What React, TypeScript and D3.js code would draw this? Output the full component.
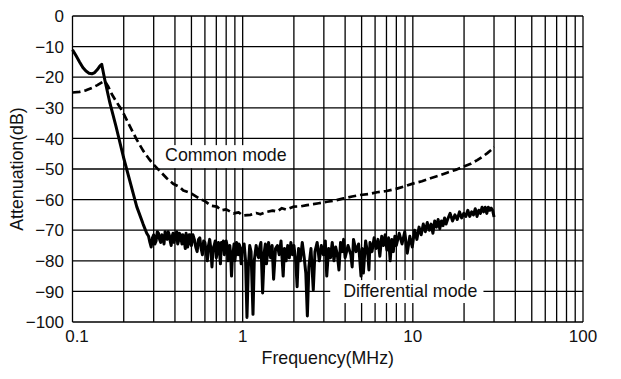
import React from "react";
import * as d3 from "d3";

const W = 621;
const H = 379;

const xTicks = [0.1, 1, 10, 100];
const xTickLabels = ["0.1", "1", "10", "100"];
const xGrid = [0.1,0.2,0.3,0.4,0.5,0.6,0.7,0.8,0.9,1,2,3,4,5,6,7,8,9,10,20,30,40,50,60,70,80,90,100];
const yTicks = [0,-10,-20,-30,-40,-50,-60,-70,-80,-90,-100];
const yTickLabels = ["0","\u221210","\u221220","\u221230","\u221240","\u221250","\u221260","\u221270","\u221280","\u221290","\u2212100"];

// Common mode (dashed) [MHz, dB]
const commonMode: [number, number][] = [
  [0.1,-25],[0.11,-24.8],[0.12,-24.3],[0.13,-23.5],[0.14,-22.6],[0.15,-21.6],[0.155,-21.3],[0.162,-23],
  [0.17,-25.5],[0.18,-27.8],[0.19,-29.8],[0.2,-32],[0.215,-35.5],[0.239,-40.5],[0.26,-44],[0.28,-46.5],
  [0.299,-48.5],[0.33,-51],[0.358,-53],[0.39,-54.8],[0.429,-56],[0.448,-57],[0.5,-58],[0.563,-59.8],
  [0.6,-60.5],[0.65,-62],[0.706,-62.3],[0.75,-63.5],[0.8,-63.2],[0.883,-64.5],[0.95,-64.2],[1.0,-65.2],
  [1.11,-65],[1.2,-64.4],[1.27,-64.8],[1.39,-64],[1.5,-63.6],[1.59,-63.9],[1.7,-62.8],[1.8,-63.3],
  [1.99,-62.3],[2.2,-62.2],[2.39,-61.8],[2.6,-61.5],[2.8,-61.2],[3.13,-60.7],[3.5,-60.3],[3.92,-59.6],
  [4.4,-59],[4.91,-58.5],[5.5,-58.2],[6.16,-57.6],[7,-57.2],[8.07,-56.4],[9,-55.6],[10.1,-54.7],
  [11.3,-54],[12.7,-53],[14.2,-52.2],[15.9,-51.2],[17.8,-50.3],[19.9,-49.2],[21.9,-48.3],[23.9,-47.1],
  [25.6,-46],[27.3,-44.9],[29,-43.7],[30,-42.8]
];

// Differential mode (solid) [MHz, dB]
const differentialMode: [number, number][] = [
  [0.1,-11],[0.105,-13],[0.11,-15],[0.115,-16.8],[0.12,-18],[0.125,-18.7],[0.13,-18.9],[0.135,-18.5],
  [0.14,-17.5],[0.145,-16.3],[0.1485,-15.8],[0.155,-21],[0.166,-28.5],[0.18,-36],[0.199,-46],[0.2385,-62.3],
  [0.26,-68],[0.273,-71],
  [0.28,-72],[0.285,-74],[0.29,-75.5],[0.295,-72.5],[0.30,-71.5],[0.305,-74.5],[0.31,-73.5],[0.315,-70.5],
  [0.32,-71],[0.325,-73],[0.33,-74],[0.335,-71.5],[0.34,-72],[0.345,-74.5],[0.35,-70.5],[0.355,-72],
  [0.36,-73],[0.365,-70.5],[0.37,-71.5],[0.375,-73.5],[0.38,-75],[0.385,-72],[0.39,-71],[0.395,-74],
  [0.40,-72.5],[0.405,-71],[0.41,-70.5],[0.415,-74.5],[0.42,-73.5],[0.425,-71],[0.43,-71.5],[0.435,-73],
  [0.44,-74.5],[0.445,-71.5],[0.45,-72],[0.455,-74],[0.46,-76],[0.465,-71],[0.47,-72.5],[0.475,-75.5],
  [0.48,-74],[0.485,-71.5],[0.49,-71.5],[0.495,-74.5],[0.50,-75],
  [0.51,-71.5],[0.52,-73],[0.53,-75.5],[0.54,-77],[0.55,-73],[0.56,-72.5],[0.57,-76],[0.58,-78],[0.59,-73.5],
  [0.60,-74],[0.61,-77],[0.62,-80],[0.63,-75],[0.64,-73],[0.65,-76],[0.66,-82],[0.67,-76],[0.68,-75],
  [0.69,-73.5],[0.70,-79],[0.71,-77],[0.72,-74],[0.73,-76],[0.74,-81],[0.75,-74],[0.76,-76],[0.77,-73.5],
  [0.78,-78],[0.79,-76],[0.80,-73.5],[0.81,-75],[0.82,-80],[0.83,-77],[0.84,-75],[0.85,-78],[0.86,-85],
  [0.87,-79],[0.88,-77],[0.89,-74.5],[0.90,-80],[0.91,-77.5],[0.92,-74],[0.93,-76],[0.94,-78],[0.95,-74.5],
  [0.96,-75],[0.97,-77.5],[0.98,-81],[0.99,-77],[1.00,-76],
  [1.02,-74.5],[1.04,-80],[1.06,-98.5],[1.08,-82],[1.10,-75],[1.12,-77],[1.15,-97.5],[1.17,-80],[1.2,-75],
  [1.22,-77.5],[1.24,-79],[1.26,-75.5],[1.28,-74],
  [1.31,-90.5],[1.34,-77],[1.36,-74.5],[1.38,-81],[1.42,-74],[1.44,-77],[1.46,-79],[1.49,-75],[1.52,-86],
  [1.56,-76],[1.60,-75],[1.64,-78],
  [1.68,-73.5],[1.73,-85],[1.76,-76],[1.80,-80],[1.84,-75],[1.88,-79],[1.92,-74],[1.96,-78],[2.00,-75],
  [2.05,-80],[2.09,-88.5],[2.13,-76],[2.18,-80],[2.24,-74],[2.30,-79],[2.35,-84],[2.40,-98],[2.45,-82],
  [2.52,-76],[2.60,-89.5],[2.66,-77],[2.74,-74],[2.82,-80],[2.90,-75],[2.98,-78],[3.06,-73.5],[3.12,-85],
  [3.20,-76],[3.28,-79],[3.36,-74],[3.44,-80],[3.52,-75.5],[3.60,-78],[3.68,-83],[3.76,-74],[3.84,-77],
  [3.92,-73],[4.00,-79],
  [4.16,-75],[4.32,-78],[4.40,-82],[4.48,-73],[4.64,-77],[4.80,-74.5],[4.96,-85],[5.04,-76],[5.12,-84],
  [5.28,-73.5],[5.44,-78],[5.52,-83],[5.6,-74],[5.76,-77],[5.92,-72.5],[6.08,-76],[6.24,-73],[6.40,-78.5],
  [6.56,-72],[6.72,-75],[6.88,-71.5],[7.04,-76.5],[7.2,-72.5],[7.36,-80],[7.52,-73],[7.68,-77],[7.84,-72],
  [8.0,-75],
  [8.32,-71],[8.64,-74.5],[8.96,-70.5],[9.28,-77.5],[9.6,-72],[9.92,-75.5],[10.24,-70],[10.56,-73],
  [10.88,-69],[11.2,-71.5],[11.52,-68],[11.84,-70.5],[12.16,-67.5],[12.48,-70],[12.8,-68],[13.12,-71],
  [13.44,-67],[13.76,-69],[14.08,-66.5],[14.4,-69.5],[14.72,-67],[15.04,-68.5],[15.36,-66],[15.68,-68],
  [16.0,-66.5],
  [16.56,-64.5],[17.12,-67],[17.68,-65],[18.24,-66.5],[18.8,-64],[19.36,-66],[19.92,-64.5],[20.48,-65.5],
  [21.04,-63.5],[21.6,-65.5],[22.16,-64],[22.72,-65],[23.28,-63],[23.84,-65.5],[24.4,-63.5],[24.96,-64.5],
  [25.52,-62.5],[26.08,-64],[26.64,-62.5],[27.2,-64.5],[27.76,-62.5],[28.32,-63.5],[28.88,-62.8],
  [29.44,-63.5],[30,-65.7]
];

const labels = [
  { text: "Common mode", f: 0.35, db: -47.3, box: [0.327, 1.9, -42.2, -49.7] },
  { text: "Differential mode", f: 3.9, db: -91.7, box: [3.27, 26, -86.3, -93.8] },
];

export default function App() {
  const margin = { left: 72.5, right: W - 583, top: 16, bottom: H - 322 };
  const x = d3.scaleLog().domain([0.1, 100]).range([margin.left, W - margin.right]);
  const y = d3.scaleLinear().domain([-100, 0]).range([H - margin.bottom, margin.top]);
  const line = d3.line<[number, number]>().x(d => x(d[0])).y(d => y(d[1]));
  const font = "'Liberation Sans', Arial, Helvetica, sans-serif";

  return (
    <svg width={W} height={H} style={{ position: "absolute", left: 0, top: 0, background: "#fff" }} fontFamily={font}>
      <rect x={0} y={0} width={W} height={H} fill="#fff" />
      {xGrid.map(v => (
        <line key={"gx" + v} x1={x(v)} x2={x(v)} y1={y(0)} y2={y(-100)} stroke="#000" strokeWidth={1.3} />
      ))}
      {yTicks.map(v => (
        <line key={"gy" + v} x1={x(0.1)} x2={x(100)} y1={y(v)} y2={y(v)} stroke="#000" strokeWidth={1.3} />
      ))}
      {labels.map(l => (
        <rect key={"b" + l.text} x={x(l.box[0])} y={y(l.box[2])} width={x(l.box[1]) - x(l.box[0])} height={y(l.box[3]) - y(l.box[2])} fill="#fff" />
      ))}
      <path d={line(commonMode) || ""} fill="none" stroke="#000" strokeWidth={2.7} strokeDasharray="8,4" strokeLinejoin="round" />
      <path d={line(differentialMode) || ""} fill="none" stroke="#000" strokeWidth={3} strokeLinejoin="round" />
      {labels.map(l => (
        <text key={"t" + l.text} x={x(l.f)} y={y(l.db)} fontSize={17.8} fill="#111">{l.text}</text>
      ))}
      {yTicks.map((v, i) => (
        <text key={"yl" + v} x={64} y={y(v)} dy="0.36em" textAnchor="end" fontSize={17} fill="#111">{yTickLabels[i]}</text>
      ))}
      {xTicks.map((v, i) => (
        <text key={"xl" + v} x={x(v) + (i === 0 ? 4.5 : 0)} y={342} textAnchor="middle" fontSize={17} fill="#111">{xTickLabels[i]}</text>
      ))}
      <text x={(x(0.1) + x(100)) / 2} y={364} textAnchor="middle" fontSize={17.8} fill="#111">Frequency(MHz)</text>
      <text transform={`translate(23,${(y(0) + y(-100)) / 2}) rotate(-90)`} textAnchor="middle" fontSize={17.8} fill="#111">Attenuation(dB)</text>
    </svg>
  );
}
